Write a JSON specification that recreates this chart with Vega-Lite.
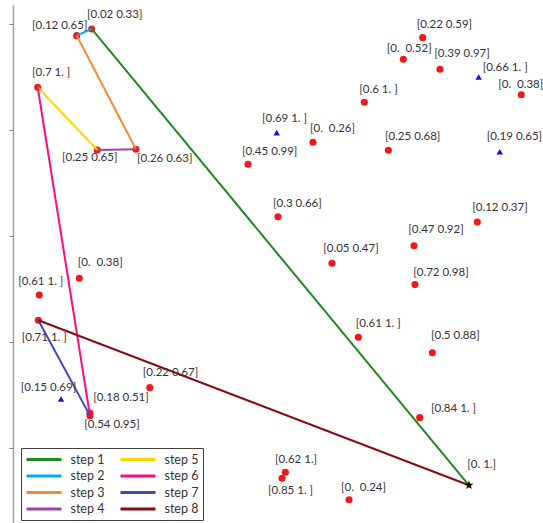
{
  "$schema": "https://vega.github.io/schema/vega-lite/v6.json",
  "autosize": "none",
  "width": 530,
  "height": 518,
  "padding": {"left": 13, "top": 5, "right": 0, "bottom": 0},
  "background": "white",
  "config": {
    "view": {"stroke": null},
    "text": {"font": "Lato"}
  },
  "datasets": {
    "pts": [
      {"x": 0.742, "y": 3.953, "kind": "circle"},
      {"x": 0.601, "y": 3.890, "kind": "circle"},
      {"x": 0.233, "y": 3.403, "kind": "circle"},
      {"x": 0.795, "y": 2.811, "kind": "circle"},
      {"x": 1.160, "y": 2.818, "kind": "circle"},
      {"x": 2.217, "y": 2.676, "kind": "circle"},
      {"x": 2.488, "y": 2.975, "kind": "triangle"},
      {"x": 2.500, "y": 2.182, "kind": "circle"},
      {"x": 3.865, "y": 3.871, "kind": "circle"},
      {"x": 3.682, "y": 3.667, "kind": "circle"},
      {"x": 4.028, "y": 3.573, "kind": "circle"},
      {"x": 4.393, "y": 3.500, "kind": "triangle"},
      {"x": 4.795, "y": 3.333, "kind": "circle"},
      {"x": 3.314, "y": 3.261, "kind": "circle"},
      {"x": 2.830, "y": 2.884, "kind": "circle"},
      {"x": 3.541, "y": 2.808, "kind": "circle"},
      {"x": 4.592, "y": 2.795, "kind": "triangle"},
      {"x": 4.380, "y": 2.132, "kind": "circle"},
      {"x": 3.783, "y": 1.908, "kind": "circle"},
      {"x": 3.009, "y": 1.742, "kind": "circle"},
      {"x": 3.792, "y": 1.541, "kind": "circle"},
      {"x": 3.258, "y": 1.044, "kind": "circle"},
      {"x": 3.956, "y": 0.899, "kind": "circle"},
      {"x": 3.837, "y": 0.286, "kind": "circle"},
      {"x": 4.302, "y": -0.352, "kind": "star"},
      {"x": 2.569, "y": -0.229, "kind": "circle"},
      {"x": 2.538, "y": -0.286, "kind": "circle"},
      {"x": 3.170, "y": -0.488, "kind": "circle"},
      {"x": 0.625, "y": 1.601, "kind": "circle"},
      {"x": 0.248, "y": 1.443, "kind": "circle"},
      {"x": 0.239, "y": 1.205, "kind": "circle"},
      {"x": 1.290, "y": 0.569, "kind": "circle"},
      {"x": 0.453, "y": 0.462, "kind": "triangle"},
      {"x": 0.726, "y": 0.330, "kind": "circle"},
      {"x": 0.726, "y": 0.305, "kind": "circle"}
    ],
    "labels": [
      {"x": 0.698, "y": 4.085, "t": "[0.02 0.33]"},
      {"x": 0.179, "y": 3.981, "t": "[0.12 0.65]"},
      {"x": 0.179, "y": 3.538, "t": "[0.7 1. ]"},
      {"x": 0.462, "y": 2.736, "t": "[0.25 0.65]"},
      {"x": 1.170, "y": 2.726, "t": "[0.26 0.63]"},
      {"x": 2.160, "y": 2.792, "t": "[0.45 0.99]"},
      {"x": 2.349, "y": 3.104, "t": "[0.69 1. ]"},
      {"x": 2.453, "y": 2.302, "t": "[0.3 0.66]"},
      {"x": 3.808, "y": 3.991, "t": "[0.22 0.59]"},
      {"x": 3.525, "y": 3.764, "t": "[0. \u00a00.52]"},
      {"x": 3.975, "y": 3.714, "t": "[0.39 0.97]"},
      {"x": 4.431, "y": 3.588, "t": "[0.66 1. ]"},
      {"x": 4.578, "y": 3.425, "t": "[0. \u00a00.38]"},
      {"x": 3.267, "y": 3.377, "t": "[0.6 1. ]"},
      {"x": 2.802, "y": 3.007, "t": "[0. \u00a00.26]"},
      {"x": 3.509, "y": 2.931, "t": "[0.25 0.68]"},
      {"x": 4.469, "y": 2.937, "t": "[0.19 0.65]"},
      {"x": 4.333, "y": 2.261, "t": "[0.12 0.37]"},
      {"x": 3.729, "y": 2.057, "t": "[0.47 0.92]"},
      {"x": 2.927, "y": 1.875, "t": "[0.05 0.47]"},
      {"x": 3.776, "y": 1.654, "t": "[0.72 0.98]"},
      {"x": 3.233, "y": 1.170, "t": "[0.61 1. ]"},
      {"x": 3.943, "y": 1.059, "t": "[0.5 0.88]"},
      {"x": 3.943, "y": 0.365, "t": "[0.84 1. ]"},
      {"x": 4.286, "y": -0.160, "t": "[0. 1.]"},
      {"x": 2.472, "y": -0.113, "t": "[0.62 1.]"},
      {"x": 2.406, "y": -0.403, "t": "[0.85 1. ]"},
      {"x": 3.094, "y": -0.375, "t": "[0. \u00a00.24]"},
      {"x": 0.610, "y": 1.742, "t": "[0. \u00a00.38]"},
      {"x": 0.050, "y": 1.569, "t": "[0.61 1. ]"},
      {"x": 0.082, "y": 1.035, "t": "[0.71 1. ]"},
      {"x": 1.224, "y": 0.710, "t": "[0.22 0.67]"},
      {"x": 0.073, "y": 0.569, "t": "[0.15 0.69]"},
      {"x": 0.758, "y": 0.475, "t": "[0.18 0.51]"},
      {"x": 0.672, "y": 0.215, "t": "[0.54 0.95]"}
    ],
    "steps": [
      {"step": "step 1", "o": 0, "x": 0.742, "y": 3.953},
      {"step": "step 1", "o": 1, "x": 4.302, "y": -0.352},
      {"step": "step 2", "o": 0, "x": 0.742, "y": 3.953},
      {"step": "step 2", "o": 1, "x": 0.601, "y": 3.890},
      {"step": "step 3", "o": 0, "x": 0.601, "y": 3.890},
      {"step": "step 3", "o": 1, "x": 1.160, "y": 2.818},
      {"step": "step 4", "o": 0, "x": 1.160, "y": 2.818},
      {"step": "step 4", "o": 1, "x": 0.795, "y": 2.811},
      {"step": "step 5", "o": 0, "x": 0.795, "y": 2.811},
      {"step": "step 5", "o": 1, "x": 0.233, "y": 3.403},
      {"step": "step 6", "o": 0, "x": 0.233, "y": 3.403},
      {"step": "step 6", "o": 1, "x": 0.726, "y": 0.305},
      {"step": "step 7", "o": 0, "x": 0.726, "y": 0.305},
      {"step": "step 7", "o": 1, "x": 0.239, "y": 1.205},
      {"step": "step 8", "o": 0, "x": 0.239, "y": 1.205},
      {"step": "step 8", "o": 1, "x": 4.302, "y": -0.352}
    ]
  },
  "encoding": {
    "x": {"field": "x", "type": "quantitative", "scale": {"domain": [0, 5], "nice": false, "zero": false}, "axis": null},
    "y": {"field": "y", "type": "quantitative", "scale": {"domain": [-0.708, 4.179], "nice": false, "zero": false},
      "axis": {"orient": "left", "values": [0, 1, 2, 3, 4], "labels": false, "title": null, "grid": false,
        "domainColor": "#a0a0a0", "domainWidth": 1.5, "tickColor": "#808080", "tickSize": 4, "tickWidth": 1}}
  },
  "layer": [
    {
      "data": {"name": "steps"},
      "mark": {"type": "rule", "opacity": 0},
      "encoding": {
        "x": {"field": "x", "type": "quantitative", "axis": {"orient": "top", "labels": false, "ticks": false, "title": null, "grid": false, "domainColor": "#909090", "domainWidth": 1.5}}
      }
    },
    {
      "data": {"name": "pts"},
      "transform": [{"filter": "datum.kind === 'circle'"}],
      "mark": {"type": "point", "shape": "circle", "filled": true, "color": "#f01818", "size": 50, "opacity": 1}
    },
    {
      "data": {"name": "pts"},
      "transform": [{"filter": "datum.kind === 'triangle'"}],
      "mark": {"type": "point", "shape": "triangle-up", "filled": true, "color": "#1010e0", "size": 42, "opacity": 1}
    },
    {
      "data": {"name": "steps"},
      "mark": {"type": "line", "strokeWidth": 2},
      "encoding": {
        "order": {"field": "o", "type": "quantitative"},
        "color": {"field": "step", "type": "nominal",
          "scale": {
            "domain": ["step 1", "step 2", "step 3", "step 4", "step 5", "step 6", "step 7", "step 8"],
            "range": ["#1f8a1f", "#00aeef", "#ff8533", "#9b45a8", "#ffd400", "#ff0a80", "#3f45c8", "#8a0a14"]
          },
          "legend": {
            "title": null, "orient": "none", "legendX": 8, "legendY": 443, "columns": 2,
            "symbolType": "M-2.917,0H2.917", "symbolSize": 144, "symbolStrokeWidth": 3, "symbolOffset": 11.5,
            "labelFont": "Lato", "labelFontSize": 12.5, "labelColor": "#333333", "labelOffset": 19,
            "strokeColor": "#404040", "fillColor": "white", "padding": 4,
            "rowPadding": 2.5, "columnPadding": 9
          }
        }
      }
    },
    {
      "data": {"name": "pts"},
      "transform": [{"filter": "datum.kind === 'star'"}],
      "mark": {"type": "point", "shape": "M0,-1L0.235,-0.324L0.951,-0.309L0.381,0.124L0.588,0.809L0,0.4L-0.588,0.809L-0.381,0.124L-0.951,-0.309L-0.235,-0.324Z", "filled": true, "color": "black", "size": 90, "opacity": 1}
    },
    {
      "data": {"name": "labels"},
      "mark": {"type": "text", "align": "left", "baseline": "middle", "fontSize": 11.5, "color": "#333333"},
      "encoding": {"text": {"field": "t"}}
    }
  ]
}
